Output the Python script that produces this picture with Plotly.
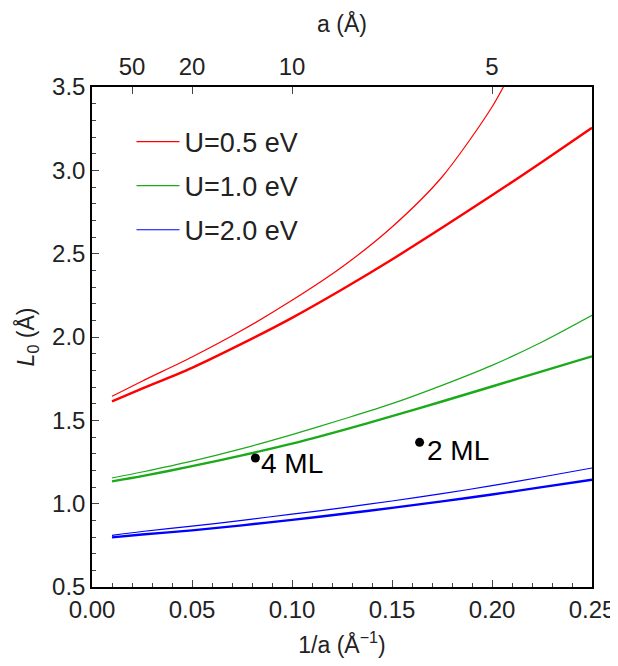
import plotly.graph_objects as go

# 1/a grid (Å^-1)
inv_a = [0.01, 0.025, 0.05, 0.075, 0.10, 0.125, 0.15, 0.175, 0.20, 0.225, 0.25]

# U = 0.5 eV
red_thin_x = [0.01, 0.025, 0.05, 0.075, 0.10, 0.125, 0.15, 0.175, 0.20, 0.21]
red_thin = [1.644, 1.735, 1.88, 2.04, 2.22, 2.42, 2.66, 2.96, 3.38, 3.60]
red_thick = [1.614, 1.69, 1.815, 1.96, 2.115, 2.285, 2.465, 2.655, 2.85, 3.05, 3.255]
# U = 1.0 eV
green_thin = [1.154, 1.19, 1.255, 1.33, 1.414, 1.505, 1.60, 1.71, 1.83, 1.97, 2.13]
green_thick = [1.134, 1.165, 1.225, 1.29, 1.36, 1.44, 1.525, 1.613, 1.703, 1.794, 1.884]
# U = 2.0 eV
blue_thin = [0.81, 0.833, 0.865, 0.90, 0.937, 0.975, 1.016, 1.06, 1.108, 1.16, 1.214]
blue_thick = [0.798, 0.815, 0.84, 0.87, 0.903, 0.938, 0.975, 1.014, 1.055, 1.099, 1.144]

# experimental points
ml_labels = ["4 ML", "2 ML"]
ml_x = [0.0817, 0.1638]
ml_y = [1.274, 1.368]

# top axis: lattice constant a (Å)
a_ticks = [50, 20, 10, 5]

RED, GREEN, BLUE = "#ff0000", "#1aaa1a", "#0000ff"
FONT = "Liberation Sans, Arial, sans-serif"

fig = go.Figure()

series = [
    ("U=0.5 eV", RED, red_thin_x, red_thin, red_thick, "g1"),
    ("U=1.0 eV", GREEN, inv_a, green_thin, green_thick, "g2"),
    ("U=2.0 eV", BLUE, inv_a, blue_thin, blue_thick, "g3"),
]
for name, col, xt, thin, thick, grp in series:
    fig.add_trace(go.Scatter(x=xt, y=thin, mode="lines", name=name,
                             line=dict(color=col, width=1.2, shape="spline", smoothing=0.8),
                             legendgroup=grp, showlegend=True, hoverinfo="skip"))
    fig.add_trace(go.Scatter(x=inv_a, y=thick, mode="lines", name=name,
                             line=dict(color=col, width=2.4, shape="spline", smoothing=0.8),
                             legendgroup=grp, showlegend=False, hoverinfo="skip"))

fig.add_trace(go.Scatter(x=ml_x, y=ml_y, mode="markers", xaxis="x2", yaxis="y",
                         marker=dict(color="black", size=9), showlegend=False,
                         hoverinfo="skip"))

shifts = [(4, -5), (5, -8)]
for lab, xv, yv, (dx, dy) in zip(ml_labels, ml_x, ml_y, shifts):
    fig.add_annotation(x=xv, y=yv, xref="x", yref="y", text=lab, showarrow=False,
                       xanchor="left", yanchor="middle", xshift=dx, yshift=dy,
                       font=dict(size=28, color="black", family=FONT))

axis_common = dict(showgrid=False, zeroline=False, linecolor="black", linewidth=1.5,
                   tickcolor="#444", ticks="inside", automargin=False,
                   tickfont=dict(size=24, color="#222", family=FONT))

fig.update_layout(
    width=612, height=650,
    margin=dict(l=84, r=28, t=79, b=71),
    paper_bgcolor="white", plot_bgcolor="white",
    font=dict(family=FONT, color="#222"),
    xaxis=dict(range=[0, 0.25], dtick=0.05, tick0=0, tickformat=".2f",
               showline=True, mirror=True, ticklen=7, ticklabelstandoff=0,
               minor=dict(dtick=0.01, ticklen=4, ticks="inside", tickcolor="#444"),
               title=dict(text="1/a (Å<sup>−1</sup>)", font=dict(size=23, family=FONT),
                          standoff=19),
               **axis_common),
    xaxis2=dict(range=[0, 0.25], overlaying="x", side="top",
                tickmode="array", tickvals=[1.0 / a for a in a_ticks],
                ticktext=[str(a) for a in a_ticks], showline=False, ticklen=7,
                ticklabelstandoff=6,
                title=dict(text="a (Å)", font=dict(size=23, family=FONT), standoff=14),
                **axis_common),
    yaxis=dict(range=[0.5, 3.5], dtick=0.5, tick0=0.5, tickformat=".1f",
               showline=True, mirror=True, ticklen=7,
               minor=dict(dtick=0.1, ticklen=4, ticks="inside", tickcolor="#444"),
               title=dict(text="<i>L</i><sub>0</sub> (Å)", font=dict(size=23, family=FONT),
                          standoff=11),
               **axis_common),
    legend=dict(x=0.079, y=0.939, xanchor="left", yanchor="top",
                bgcolor="rgba(0,0,0,0)", font=dict(size=27, family=FONT, color="#222"),
                tracegroupgap=6, itemwidth=43),
)

fig.write_html("out.html")
